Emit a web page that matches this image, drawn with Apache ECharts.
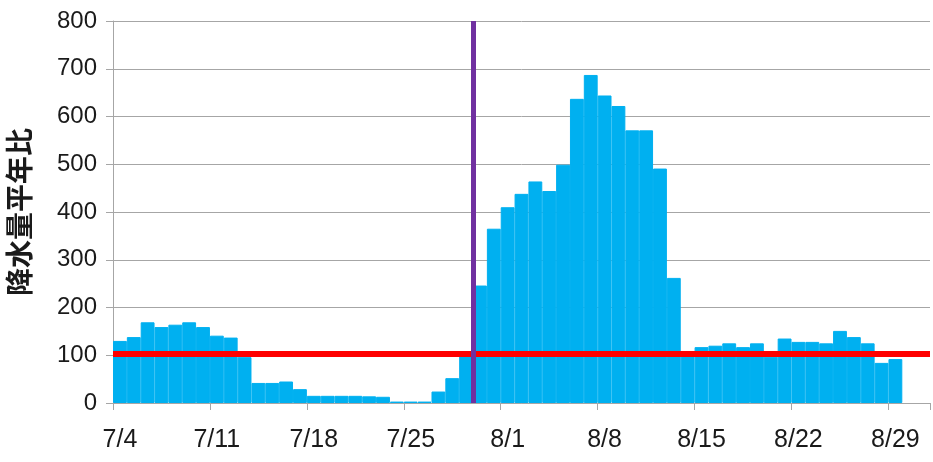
<!DOCTYPE html>
<html>
<head>
<meta charset="utf-8">
<script src="https://cdn.jsdelivr.net/npm/echarts@6/dist/echarts.min.js"></script>
<style>
  html, body { margin: 0; padding: 0; background: #fff; }
  #chart { width: 933px; height: 462px; }
</style>
</head>
<body>
<div id="chart"></div>
<script>
// daily categories 7/4 .. 8/31 (last two days have no data)
const days = [];
for (let d = 4; d <= 31; d++) days.push('7/' + d);
for (let d = 1; d <= 31; d++) days.push('8/' + d);

// 降水量平年比 (%), 7/4 .. 8/29
const ratio = [
    130, 138, 169, 159, 164, 169, 159, 141, 137, 96,
    42, 42, 45, 29, 15, 15, 15, 15, 14, 13,
    3, 3, 3, 24, 52, 99, 246, 365, 410, 438,
    464, 444, 499, 637, 687, 644, 622, 571, 571, 491,
    262, 105, 117, 120, 125, 117, 125, 97, 135, 128,
    128, 125, 151, 138, 125, 84, 92
];

const normalLine = 104;     // red reference line
const splitDay = 26;        // purple line sits between 7/29 and 7/30
const yTicks = [0, 100, 200, 300, 400, 500, 600, 700, 800];

const chart = echarts.init(document.getElementById('chart'), null, { renderer: 'canvas' });

const labelFont = '"Liberation Sans", sans-serif';

chart.setOption({
    animation: false,
    backgroundColor: '#fff',
    grid: {
        left: 113, right: 3, top: 21, bottom: 59,
        containLabel: false,
        outerBoundsMode: 'none'
    },
    xAxis: [
        {
            type: 'category',
            data: days,
            boundaryGap: true,
            axisLine: { lineStyle: { color: '#a6a6a6', width: 1 } },
            axisTick: { show: true, interval: 6, length: 7, lineStyle: { color: '#a6a6a6' } },
            axisLabel: {
                interval: 6,
                color: '#1a1a1a',
                fontSize: 25,
                fontFamily: labelFont,
                margin: 25
            },
            splitLine: { show: false }
        },
        {
            // hidden helper axis in day units, used for the boundary line
            type: 'value',
            min: 0,
            max: days.length,
            show: false
        }
    ],
    yAxis: {
        type: 'value',
        min: yTicks[0],
        max: yTicks[yTicks.length - 1],
        interval: 100,
        name: '降水量平年比',
        nameLocation: 'middle',
        nameGap: 80,
        nameTextStyle: {
            fontFamily: '"Noto Sans CJK JP", "Noto Sans CJK SC", sans-serif',
            fontWeight: 'bold',
            fontSize: 28,
            color: '#1a1a1a'
        },
        axisLine: { show: true, lineStyle: { color: '#a6a6a6' } },
        axisTick: { show: true, length: 7, lineStyle: { color: '#a6a6a6' } },
        axisLabel: {
            color: '#1a1a1a',
            fontSize: 24,
            fontFamily: labelFont,
            margin: 16
        },
        splitLine: { lineStyle: { color: '#a6a6a6', width: 1 } }
    },
    series: [
        {
            type: 'bar',
            data: ratio,
            barCategoryGap: '0%',
            itemStyle: { color: '#00b0f0', borderColor: '#00b0f0', borderWidth: 1 },
            markLine: {
                silent: true,
                symbol: 'none',
                label: { show: false },
                lineStyle: { color: '#ff0000', width: 6, type: 'solid' },
                data: [{ yAxis: normalLine }]
            }
        },
        {
            type: 'line',
            xAxisIndex: 1,
            data: [],
            markLine: {
                silent: true,
                symbol: 'none',
                label: { show: false },
                lineStyle: { color: '#7030a0', width: 5, type: 'solid' },
                data: [{ xAxis: splitDay }]
            }
        }
    ]
});
</script>
</body>
</html>
